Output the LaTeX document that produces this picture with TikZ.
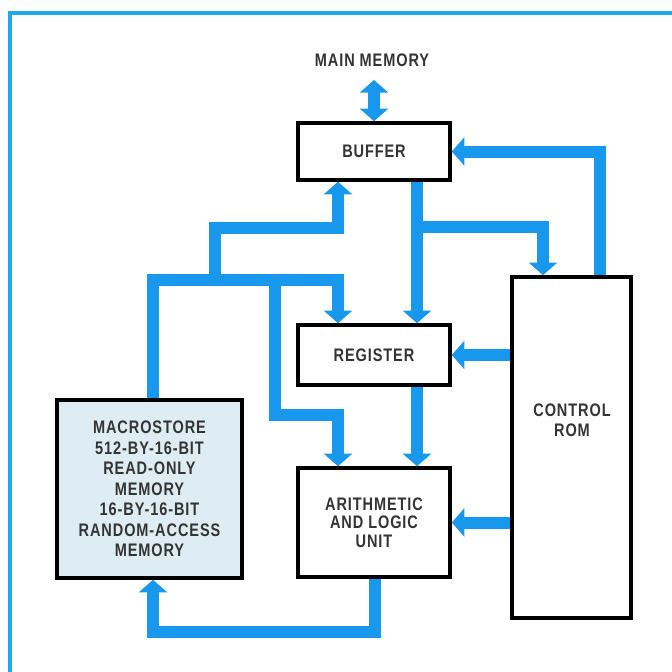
\documentclass[tikz,border=0pt]{standalone}
\usepackage{fontspec}
\setmainfont{Liberation Sans}[FakeStretch=0.8,LetterSpace=5]
\usetikzlibrary{arrows.meta}
\definecolor{busblue}{RGB}{24,152,236}
\definecolor{frameblue}{RGB}{30,170,232}
\definecolor{inkgrey}{RGB}{52,52,52}
\definecolor{storefill}{RGB}{222,237,243}

\begin{document}
\begin{tikzpicture}[x=0.03cm, y=-0.03cm,
    unit/.style={draw=black, line width=3pt, fill=white, inner sep=0pt, align=center,
      text=inkgrey, font=\fontsize{15.5}{17.5}\selectfont\bfseries},
    caption/.style={text=inkgrey, align=center, font=\fontsize{15.5}{17.5}\selectfont\bfseries},
    bus/.style={draw=busblue, line width=0.36cm, line join=miter},
    >={Triangle[width=0.84cm, length=0.38cm]}]
    \useasboundingbox (0,0) rectangle (672,672);
    \fill[white] (0,0) rectangle (672,672);
    \draw[frameblue, line width=0.12cm] (10,672) -- (10,13) -- (672,13);

    % blocks
    \node[unit, minimum width=4.56cm, minimum height=1.71cm] (buffer) at (374,151.5) {BUFFER};
    \node[unit, minimum width=4.56cm, minimum height=1.8cm] (register) at (374,355) {REGISTER};
    \node[unit, minimum width=4.56cm, minimum height=3.27cm, font=\fontsize{15.5}{16}\selectfont\bfseries]
        (alu) at (374,522.5) {ARITHMETIC\\AND LOGIC\\UNIT};
    \node[unit, minimum width=3.57cm, minimum height=10.23cm] (rom) at (571.5,447.5) {};
    \node[caption] (romlabel) at (572,420) {CONTROL\\ROM};
    \node[unit, fill=storefill, minimum width=5.55cm, minimum height=5.34cm] (macro) at (149.5,489)
        {MACROSTORE\\512-BY-16-BIT\\READ-ONLY\\MEMORY\\16-BY-16-BIT\\RANDOM-ACCESS\\MEMORY};
    \node[caption] (mainmem) at (372,60) {MAIN MEMORY};

    % main memory port
    \coordinate (memport) at (374,80);
    \draw[bus, <->] (memport) -- (buffer.north);

    % macrostore bus
    \coordinate (busL) at (153,280);
    \coordinate (busR) at (338,280);
    \draw[bus, ->] (busL |- macro.north) -- (busL) -- (busR) -- (busR |- register.north);
    \coordinate (tapB) at (215,280);
    \coordinate (bendB) at (215,228);
    \draw[bus, ->] (tapB) -- (bendB) -- (bendB -| busR) -- (busR |- buffer.south);
    \coordinate (tapA) at (275,280);
    \coordinate (bendA) at (275,415);
    \draw[bus, ->] (tapA) -- (bendA) -- (bendA -| busR) -- (busR |- alu.north);

    % buffer out
    \coordinate (bufout) at (417,227);
    \coordinate (romin) at (543,227);
    \draw[bus, ->] (bufout |- buffer.south) -- (bufout |- register.north);
    \draw[bus, ->] (bufout) -- (romin) -- (romin |- rom.north);
    \draw[bus, ->] (bufout |- register.south) -- (bufout |- alu.north);

    % control lines
    \coordinate (romup) at (600,151.5);
    \draw[bus, ->] (romup |- rom.north) -- (romup) -- (buffer.east);
    \draw[bus, ->] (rom.west |- register.east) -- (register.east);
    \draw[bus, ->] (rom.west |- alu.east) -- (alu.east);

    % result back to macrostore
    \coordinate (aluout) at (375,632);
    \draw[bus, ->] (aluout |- alu.south) -- (aluout) -- (aluout -| busL) -- (busL |- macro.south);
\end{tikzpicture}
\end{document}
